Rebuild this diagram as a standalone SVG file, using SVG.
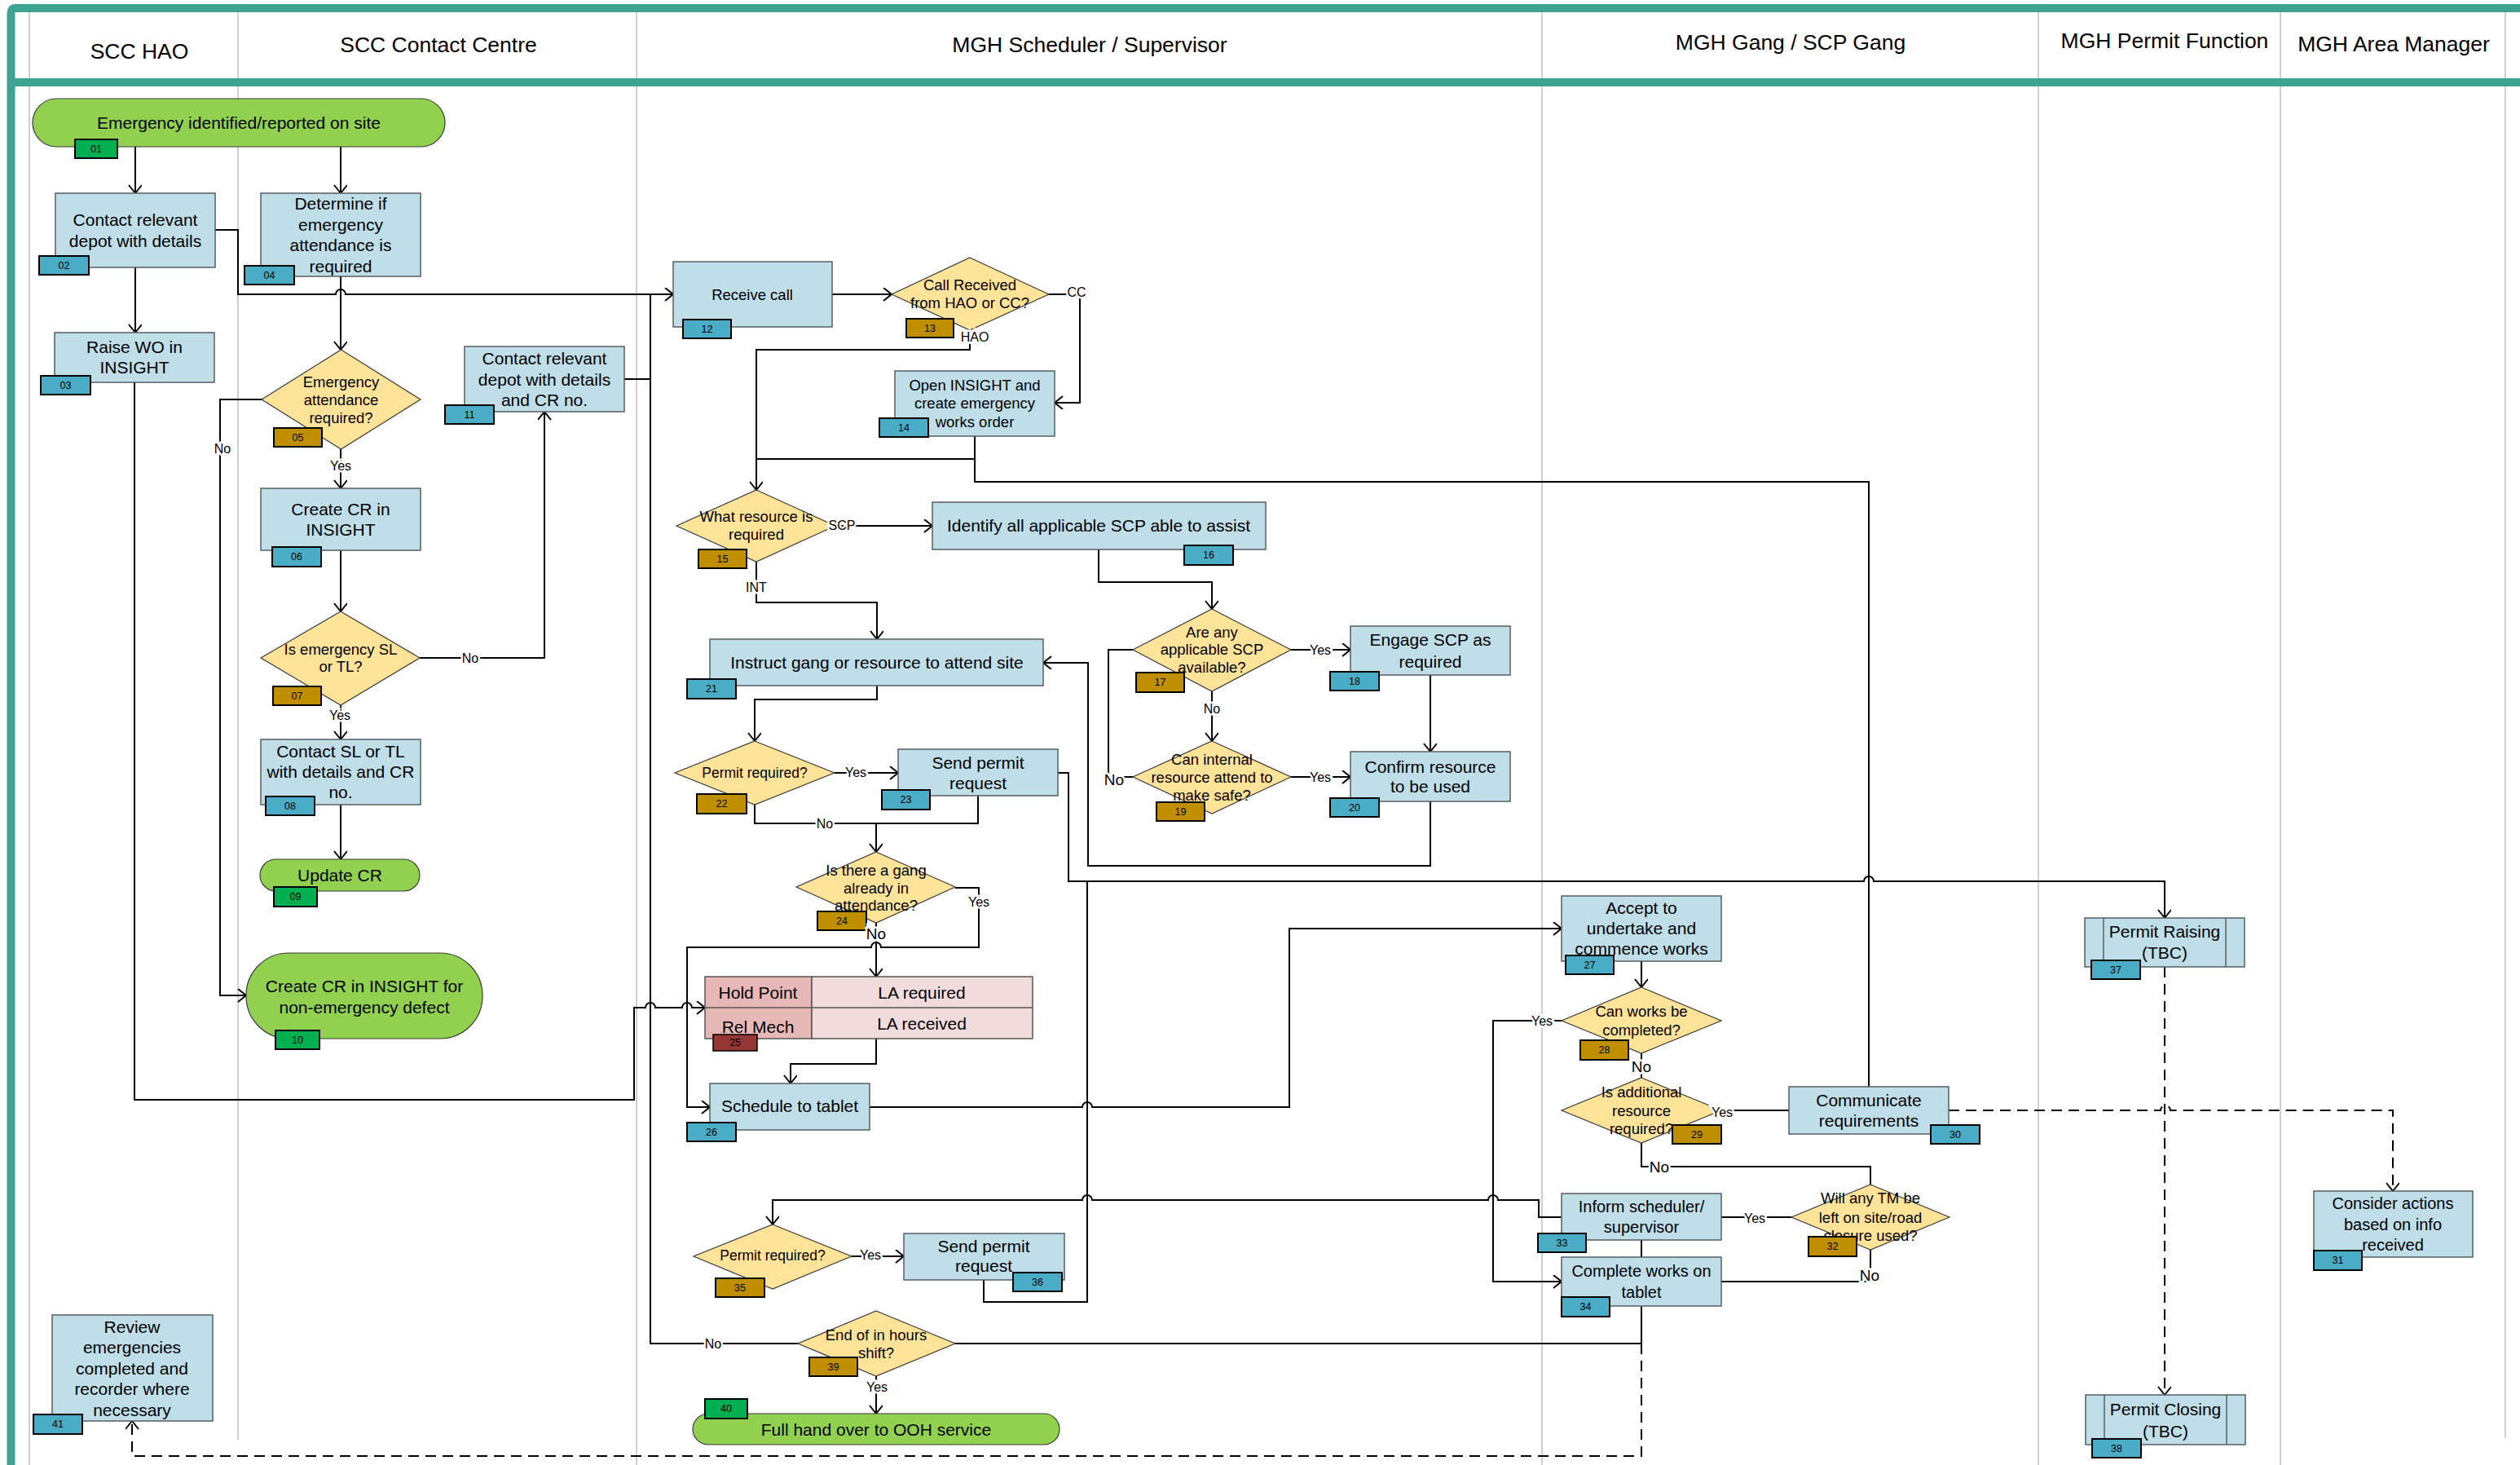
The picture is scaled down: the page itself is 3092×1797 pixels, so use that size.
<svg xmlns="http://www.w3.org/2000/svg" width="3092" height="1797" viewBox="0 0 3092 1797">
<style>
.box{fill:#C0DEE8;stroke:#555F63;stroke-width:1.5}
.dia{fill:#FFE399;stroke:#3A3A3A;stroke-width:1.2}
.pill{fill:#92D050;stroke:#3A3A3A;stroke-width:1.2}
.bb{fill:#4BACC6;stroke:#000;stroke-width:2}
.bo{fill:#BF8F00;stroke:#000;stroke-width:2}
.bg{fill:#00B050;stroke:#000;stroke-width:2}
.br{fill:#953735;stroke:#000;stroke-width:1.5}
.t{font-family:"Liberation Sans",Arial,sans-serif;font-size:21px;text-anchor:middle;dominant-baseline:central;fill:#000}
.s{font-size:18.5px}
.m{font-size:20px}
.p{font-size:17.5px}
.bt{font-size:12.5px}
.h{font-size:26.5px}
.l{font-size:16px;paint-order:stroke;stroke:#fff;stroke-width:5px}
.L{font-size:19px;paint-order:stroke;stroke:#fff;stroke-width:5px}
.ln{fill:none;stroke:#000;stroke-width:2}
.ar{marker-end:url(#a)}
.ds{stroke-dasharray:13,8}
.lane{stroke:#BFBFBF;stroke-width:1.5}
</style>
<defs>
<marker id="a" markerUnits="userSpaceOnUse" markerWidth="16" markerHeight="18" refX="12" refY="8" orient="auto">
<path d="M2,0 L12,8 L2,16" fill="none" stroke="#000" stroke-width="2"/>
</marker>
</defs>
<rect width="3092" height="1797" fill="#fff"/>
<g id="frame">
<line class="lane" x1="36" y1="10" x2="36" y2="1797"/>
<line class="lane" x1="292" y1="10" x2="292" y2="1766"/>
<line class="lane" x1="781" y1="10" x2="781" y2="1797"/>
<line class="lane" x1="1892" y1="10" x2="1892" y2="1797"/>
<line class="lane" x1="2501" y1="10" x2="2501" y2="1797"/>
<line class="lane" x1="2798" y1="10" x2="2798" y2="1797"/>
<line class="lane" x1="3074" y1="10" x2="3074" y2="1764"/>
<path d="M13.5,1797 V16 Q13.5,10 19,10 H3092" fill="none" stroke="#3FA393" stroke-width="10"/>
<line x1="13" y1="101" x2="3092" y2="101" stroke="#3FA393" stroke-width="10"/>
<text class="t h" x="171" y="63">SCC HAO</text>
<text class="t h" x="538" y="55">SCC Contact Centre</text>
<text class="t h" x="1337" y="55">MGH Scheduler / Supervisor</text>
<text class="t h" x="2197" y="52">MGH Gang / SCP Gang</text>
<text class="t h" x="2656" y="50">MGH Permit Function</text>
<text class="t h" x="2937" y="54">MGH Area Manager</text>
</g>
<g id="connectors">
<path class="ln ar" d="M166,180 V237"/>
<path class="ln ar" d="M418,180 V237"/>
<path class="ln ar" d="M166,328 V408"/>
<path class="ln ar" d="M264,282 H292 V361 H412 a6,6 0 0 1 12,0 H826"/>
<path class="ln ar" d="M418,339 V429"/>
<path class="ln ar" d="M321,490 H270 V1221 H302"/>
<path class="ln ar" d="M418,551 V599"/>
<path class="ln ar" d="M418,675 V750"/>
<path class="ln ar" d="M515,807 H668 V505"/>
<path class="ln ar" d="M418,865 V907"/>
<path class="ln ar" d="M418,987 V1054"/>
<path class="ln ar" d="M165,469 V1349 H778 V1236 H792 a6,6 0 0 1 12,0 H837 a6,6 0 0 1 12,0 H865"/>
<path class="ln" d="M766,465 H798"/>
<path class="ln" d="M979,1648 H798 V361"/>
<path class="ln ar" d="M1021,361 H1094"/>
<path class="ln ar" d="M1287,361 H1325 V494 H1294"/>
<path class="ln ar" d="M1190,405 V429 H928 V601"/>
<path class="ln" d="M1196,535 V563 H928"/>
<path class="ln" d="M2293,1333 V591 H1196 V563"/>
<path class="ln ar" d="M1025,645 H1144"/>
<path class="ln ar" d="M928,689 V739 H1076 V784"/>
<path class="ln ar" d="M1348,674 V714 H1487 V747"/>
<path class="ln ar" d="M1584,797 H1657"/>
<path class="ln ar" d="M1487,848 V909"/>
<path class="ln ar" d="M1584,953 H1657"/>
<path class="ln ar" d="M1755,828 V922"/>
<path class="ln" d="M1390,953 H1360 V797 H1390"/>
<path class="ln ar" d="M1755,983 V1062 H1335 V813 H1280"/>
<path class="ln ar" d="M1076,841 V858 H926 V909"/>
<path class="ln ar" d="M1024,948 H1102"/>
<path class="ln" d="M926,987 V1010 H1200 V976"/>
<path class="ln ar" d="M1075,1010 V1045"/>
<path class="ln ar" d="M1298,948 H1311 V1081 H2287 a6,6 0 0 1 12,0 H2656 V1126"/>
<path class="ln ar" d="M1172,1089 H1201 V1162 H1081 a6,6 0 0 0 -12,0 H843 V1358 H871"/>
<path class="ln ar" d="M1075,1132 V1198"/>
<path class="ln ar" d="M1075,1274 V1305 H970 V1329"/>
<path class="ln ar" d="M1067,1358 H1328 a6,6 0 0 1 12,0 H1582 V1139 H1916"/>
<path class="ln ar" d="M2014,1179 V1211"/>
<path class="ln ar" d="M1916,1252 H1832 V1572 H1916"/>
<path class="ln" d="M2014,1292 V1322"/>
<path class="ln" d="M2112,1362 H2195"/>
<path class="ln" d="M2014,1402 V1431 H2295 V1453"/>
<path class="ln" d="M2198,1493 H2112"/>
<path class="ln" d="M2295,1533 V1572 H2112"/>
<path class="ln" d="M2014,1521 V1542"/>
<path class="ln ar" d="M1916,1493 H1888 V1472 H1838 a6,6 0 0 0 -12,0 H1340 a6,6 0 0 0 -12,0 H948 V1502"/>
<path class="ln ar" d="M1045,1541 H1109"/>
<path class="ln" d="M1207,1570 V1597 H1334 V1081"/>
<path class="ln" d="M2014,1602 V1648 H1172"/>
<path class="ln ar" d="M1075,1688 V1734"/>
<path class="ln ar ds" d="M2014,1648 V1786 H162 V1743"/>
<path class="ln ar ds" d="M2391,1362 H2651 a6,6 0 0 1 12,0 H2936 V1461"/>
<path class="ln ar ds" d="M2656,1186 V1711"/>
</g>
<g id="n01"><rect class="pill" x="40" y="121" width="506" height="59" rx="29.5"/><text class="t" x="293" y="150">Emergency identified/reported on site</text><rect class="bg" x="92" y="171" width="52" height="23"/><text class="t bt" x="118" y="182.5">01</text></g>
<g id="n02"><rect class="box" x="68" y="237" width="196" height="91"/><text class="t"><tspan x="166" y="269">Contact relevant</tspan><tspan x="166" y="295">depot with details</tspan></text><rect class="bb" x="48" y="314" width="61" height="23"/><text class="t bt" x="78.5" y="325.5">02</text></g>
<g id="n03"><rect class="box" x="67" y="408" width="196" height="61"/><text class="t"><tspan x="165" y="425">Raise WO in</tspan><tspan x="165" y="450">INSIGHT</tspan></text><rect class="bb" x="50" y="461" width="61" height="23"/><text class="t bt" x="80.5" y="472.5">03</text></g>
<g id="n04"><rect class="box" x="320" y="237" width="196" height="102"/><text class="t"><tspan x="418" y="249">Determine if</tspan><tspan x="418" y="275">emergency</tspan><tspan x="418" y="300">attendance is</tspan><tspan x="418" y="326">required</tspan></text><rect class="bb" x="300" y="326" width="61" height="23"/><text class="t bt" x="330.5" y="337.5">04</text></g>
<g id="n05"><polygon class="dia" points="418.5,429 516,490 418.5,551 321,490"/><text class="t s"><tspan x="418.5" y="468">Emergency</tspan><tspan x="418.5" y="490">attendance</tspan><tspan x="418.5" y="512">required?</tspan></text><rect class="bo" x="336" y="525" width="59" height="23"/><text class="t bt" x="365.5" y="536.5">05</text></g>
<g id="n06"><rect class="box" x="320" y="599" width="196" height="76"/><text class="t"><tspan x="418" y="623.5">Create CR in</tspan><tspan x="418" y="648.5">INSIGHT</tspan></text><rect class="bb" x="334" y="671" width="60" height="24"/><text class="t bt" x="364" y="683">06</text></g>
<g id="n07"><polygon class="dia" points="418,750 515,807 418,865 320,807"/><text class="t s"><tspan x="418" y="796">Is emergency SL</tspan><tspan x="418" y="817">or TL?</tspan></text><rect class="bo" x="335" y="842" width="59" height="23"/><text class="t bt" x="364.5" y="853.5">07</text></g>
<g id="n08"><rect class="box" x="320" y="907" width="196" height="80"/><text class="t"><tspan x="418" y="921">Contact SL or TL</tspan><tspan x="418" y="946">with details and CR</tspan><tspan x="418" y="971">no.</tspan></text><rect class="bb" x="326" y="977" width="60" height="23"/><text class="t bt" x="356" y="988.5">08</text></g>
<g id="n09"><rect class="pill" x="319" y="1054" width="196" height="39" rx="19.5"/><text class="t" x="417" y="1073">Update CR</text><rect class="bg" x="336" y="1088" width="53" height="24"/><text class="t bt" x="362.5" y="1100">09</text></g>
<g id="n10"><rect class="pill" x="302" y="1169" width="290" height="105" rx="52"/><text class="t"><tspan x="447" y="1209">Create CR in INSIGHT for</tspan><tspan x="447" y="1235">non-emergency defect</tspan></text><rect class="bg" x="338" y="1264" width="54" height="23"/><text class="t bt" x="365" y="1275.5">10</text></g>
<g id="n11"><rect class="box" x="570" y="425" width="196" height="80"/><text class="t"><tspan x="668" y="439">Contact relevant</tspan><tspan x="668" y="465">depot with details</tspan><tspan x="668" y="490">and CR no.</tspan></text><rect class="bb" x="546" y="497" width="60" height="23"/><text class="t bt" x="576" y="508.5">11</text></g>
<g id="n12"><rect class="box" x="826" y="321" width="195" height="80"/><text class="t s" x="923" y="361">Receive call</text><rect class="bb" x="838" y="392" width="59" height="23"/><text class="t bt" x="867.5" y="403.5">12</text></g>
<g id="n13"><polygon class="dia" points="1190,316 1287,361 1190,405 1094,361"/><text class="t s"><tspan x="1190" y="349">Call Received</tspan><tspan x="1190" y="371">from HAO or CC?</tspan></text><rect class="bo" x="1112" y="391" width="58" height="23"/><text class="t bt" x="1141" y="402.5">13</text></g>
<g id="n14"><rect class="box" x="1098" y="455" width="196" height="80"/><text class="t s"><tspan x="1196" y="472">Open INSIGHT and</tspan><tspan x="1196" y="494">create emergency</tspan><tspan x="1196" y="517">works order</tspan></text><rect class="bb" x="1079" y="513" width="60" height="23"/><text class="t bt" x="1109" y="524.5">14</text></g>
<g id="n15"><polygon class="dia" points="928,601 1025,645 928,689 830,645"/><text class="t s"><tspan x="928" y="633">What resource is</tspan><tspan x="928" y="655">required</tspan></text><rect class="bo" x="857" y="674" width="59" height="23"/><text class="t bt" x="886.5" y="685.5">15</text></g>
<g id="n16"><rect class="box" x="1144" y="616" width="409" height="58"/><text class="t" x="1348" y="644.5">Identify all applicable SCP able to assist</text><rect class="bb" x="1453" y="669" width="60" height="24"/><text class="t bt" x="1483" y="681">16</text></g>
<g id="n17"><polygon class="dia" points="1487,747 1584,797 1487,848 1390,797"/><text class="t s"><tspan x="1487" y="775">Are any</tspan><tspan x="1487" y="796">applicable SCP</tspan><tspan x="1487" y="818">available?</tspan></text><rect class="bo" x="1394" y="825" width="59" height="24"/><text class="t bt" x="1423.5" y="837">17</text></g>
<g id="n18"><rect class="box" x="1657" y="768" width="196" height="60"/><text class="t"><tspan x="1755" y="784">Engage SCP as</tspan><tspan x="1755" y="810.5">required</tspan></text><rect class="bb" x="1632" y="824" width="60" height="23"/><text class="t bt" x="1662" y="835.5">18</text></g>
<g id="n19"><polygon class="dia" points="1487,909 1584,953 1487,998 1390,953"/><text class="t s"><tspan x="1487" y="931">Can internal</tspan><tspan x="1487" y="953">resource attend to</tspan><tspan x="1487" y="975">make safe?</tspan></text><rect class="bo" x="1419" y="984" width="59" height="23"/><text class="t bt" x="1448.5" y="995.5">19</text></g>
<g id="n20"><rect class="box" x="1657" y="922" width="196" height="61"/><text class="t"><tspan x="1755" y="940">Confirm resource</tspan><tspan x="1755" y="964">to be used</tspan></text><rect class="bb" x="1632" y="979" width="60" height="23"/><text class="t bt" x="1662" y="990.5">20</text></g>
<g id="n21"><rect class="box" x="871" y="784" width="409" height="57"/><text class="t" x="1076" y="812">Instruct gang or resource to attend site</text><rect class="bb" x="843" y="833" width="60" height="24"/><text class="t bt" x="873" y="845">21</text></g>
<g id="n22"><polygon class="dia" points="926,909 1024,948 926,987 828,948"/><text class="t p" x="926" y="948">Permit required?</text><rect class="bo" x="855" y="974" width="61" height="24"/><text class="t bt" x="885.5" y="986">22</text></g>
<g id="n23"><rect class="box" x="1102" y="919" width="196" height="57"/><text class="t"><tspan x="1200" y="934.5">Send permit</tspan><tspan x="1200" y="959.5">request</tspan></text><rect class="bb" x="1082" y="969" width="59" height="24"/><text class="t bt" x="1111.5" y="981">23</text></g>
<g id="n24"><polygon class="dia" points="1075,1045 1172,1088 1075,1132 977,1088"/><text class="t s"><tspan x="1075" y="1067">Is there a gang</tspan><tspan x="1075" y="1089">already in</tspan><tspan x="1075" y="1110">attendance?</tspan></text><rect class="bo" x="1003" y="1118" width="60" height="23"/><text class="t bt" x="1033" y="1129.5">24</text></g>
<g id="n25"><rect x="865" y="1198" width="131" height="76" fill="#E6B8B7" stroke="#555" stroke-width="1.5"/><rect x="996" y="1198" width="271" height="76" fill="#F2DCDB" stroke="#555" stroke-width="1.5"/><line x1="865" y1="1236" x2="1267" y2="1236" stroke="#555" stroke-width="1.5"/><text class="t" x="930" y="1217">Hold Point</text><text class="t" x="1131" y="1217">LA required</text><text class="t" x="930" y="1259">Rel Mech</text><text class="t" x="1131" y="1255">LA received</text><rect class="br" x="875" y="1269" width="54" height="20"/><text class="t bt" x="902" y="1279">25</text></g>
<g id="n26"><rect class="box" x="871" y="1329" width="196" height="57"/><text class="t" x="969" y="1356">Schedule to tablet</text><rect class="bb" x="843" y="1377" width="60" height="23"/><text class="t bt" x="873" y="1388.5">26</text></g>
<g id="n27"><rect class="box" x="1916" y="1099" width="196" height="80"/><text class="t"><tspan x="2014" y="1113">Accept to</tspan><tspan x="2014" y="1138">undertake and</tspan><tspan x="2014" y="1163">commence works</tspan></text><rect class="bb" x="1921" y="1172" width="59" height="23"/><text class="t bt" x="1950.5" y="1183.5">27</text></g>
<g id="n28"><polygon class="dia" points="2014,1211 2112,1252 2014,1292 1916,1252"/><text class="t s"><tspan x="2014" y="1240">Can works be</tspan><tspan x="2014" y="1263">completed?</tspan></text><rect class="bo" x="1939" y="1276" width="59" height="24"/><text class="t bt" x="1968.5" y="1288">28</text></g>
<g id="n29"><polygon class="dia" points="2014,1322 2112,1362 2014,1402 1916,1362"/><text class="t s"><tspan x="2014" y="1339">Is additional</tspan><tspan x="2014" y="1362">resource</tspan><tspan x="2014" y="1384">required?</tspan></text><rect class="bo" x="2052" y="1380" width="60" height="23"/><text class="t bt" x="2082" y="1391.5">29</text></g>
<g id="n30"><rect class="box" x="2195" y="1333" width="196" height="58"/><text class="t"><tspan x="2293" y="1349">Communicate</tspan><tspan x="2293" y="1374">requirements</tspan></text><rect class="bb" x="2369" y="1380" width="60" height="23"/><text class="t bt" x="2399" y="1391.5">30</text></g>
<g id="n31"><rect class="box" x="2839" y="1461" width="195" height="81"/><text class="t m"><tspan x="2936" y="1476">Consider actions</tspan><tspan x="2936" y="1502">based on info</tspan><tspan x="2936" y="1527">received</tspan></text><rect class="bb" x="2839" y="1534" width="59" height="24"/><text class="t bt" x="2868.5" y="1546">31</text></g>
<g id="n32"><polygon class="dia" points="2295,1453 2392,1493 2295,1533 2198,1493"/><text class="t s"><tspan x="2295" y="1469">Will any TM be</tspan><tspan x="2295" y="1493">left on site/road</tspan><tspan x="2295" y="1515">closure used?</tspan></text><rect class="bo" x="2219" y="1517" width="59" height="24"/><text class="t bt" x="2248.5" y="1529">32</text></g>
<g id="n33"><rect class="box" x="1916" y="1464" width="196" height="57"/><text class="t m"><tspan x="2014" y="1480">Inform scheduler/</tspan><tspan x="2014" y="1505">supervisor</tspan></text><rect class="bb" x="1887" y="1513" width="59" height="23"/><text class="t bt" x="1916.5" y="1524.5">33</text></g>
<g id="n34"><rect class="box" x="1916" y="1542" width="196" height="60"/><text class="t m"><tspan x="2014" y="1559">Complete works on</tspan><tspan x="2014" y="1585">tablet</tspan></text><rect class="bb" x="1916" y="1591" width="59" height="24"/><text class="t bt" x="1945.5" y="1603">34</text></g>
<g id="n35"><polygon class="dia" points="948,1502 1045,1541 948,1581 851,1541"/><text class="t p" x="948" y="1540">Permit required?</text><rect class="bo" x="878" y="1568" width="60" height="23"/><text class="t bt" x="908" y="1579.5">35</text></g>
<g id="n36"><rect class="box" x="1109" y="1513" width="197" height="57"/><text class="t"><tspan x="1207" y="1528">Send permit</tspan><tspan x="1207" y="1552">request</tspan></text><rect class="bb" x="1243" y="1561" width="60" height="23"/><text class="t bt" x="1273" y="1572.5">36</text></g>
<g id="n37"><rect class="box" x="2558" y="1126" width="196" height="60"/><line x1="2581" y1="1126" x2="2581" y2="1186" stroke="#555F63" stroke-width="1.5"/><line x1="2731" y1="1126" x2="2731" y2="1186" stroke="#555F63" stroke-width="1.5"/><text class="t"><tspan x="2656" y="1141.5">Permit Raising</tspan><tspan x="2656" y="1168">(TBC)</tspan></text><rect class="bb" x="2566" y="1178" width="60" height="23"/><text class="t bt" x="2596" y="1189.5">37</text></g>
<g id="n38"><rect class="box" x="2559" y="1711" width="196" height="61"/><line x1="2582" y1="1711" x2="2582" y2="1772" stroke="#555F63" stroke-width="1.5"/><line x1="2732" y1="1711" x2="2732" y2="1772" stroke="#555F63" stroke-width="1.5"/><text class="t"><tspan x="2657" y="1728">Permit Closing</tspan><tspan x="2657" y="1754.5">(TBC)</tspan></text><rect class="bb" x="2567" y="1765" width="60" height="23"/><text class="t bt" x="2597" y="1776.5">38</text></g>
<g id="n39"><polygon class="dia" points="1075,1608 1172,1648 1075,1688 979,1648"/><text class="t s"><tspan x="1075" y="1636.5">End of in hours</tspan><tspan x="1075" y="1659">shift?</tspan></text><rect class="bo" x="993" y="1665" width="59" height="23"/><text class="t bt" x="1022.5" y="1676.5">39</text></g>
<g id="n40"><rect class="pill" x="850" y="1734" width="450" height="38" rx="19"/><text class="t" x="1075" y="1753">Full hand over to OOH service</text><rect class="bg" x="865" y="1716" width="52" height="24"/><text class="t bt" x="891" y="1728">40</text></g>
<g id="n41"><rect class="box" x="64" y="1613" width="197" height="130"/><text class="t"><tspan x="162" y="1627">Review</tspan><tspan x="162" y="1652">emergencies</tspan><tspan x="162" y="1678">completed and</tspan><tspan x="162" y="1703">recorder where</tspan><tspan x="162" y="1729">necessary</tspan></text><rect class="bb" x="41" y="1735" width="60" height="24"/><text class="t bt" x="71" y="1747">41</text></g>
<g id="connector-labels">
<text class="t l" x="273" y="550">No</text>
<text class="t l" x="418" y="571">Yes</text>
<text class="t l" x="577" y="807">No</text>
<text class="t l" x="417" y="877">Yes</text>
<text class="t l" x="1196" y="413">HAO</text>
<text class="t l" x="1321" y="358">CC</text>
<text class="t l" x="1033" y="644">SCP</text>
<text class="t l" x="928" y="720">INT</text>
<text class="t l" x="1620" y="797">Yes</text>
<text class="t l" x="1487" y="869">No</text>
<text class="t l" x="1620" y="953">Yes</text>
<text class="t L" x="1367" y="956">No</text>
<text class="t l" x="1050" y="947">Yes</text>
<text class="t l" x="1012" y="1010">No</text>
<text class="t l" x="1201" y="1106">Yes</text>
<text class="t L" x="1075" y="1145">No</text>
<text class="t l" x="1892" y="1252">Yes</text>
<text class="t L" x="2014" y="1308">No</text>
<text class="t l" x="2113" y="1364">Yes</text>
<text class="t L" x="2036" y="1431">No</text>
<text class="t l" x="2153" y="1494">Yes</text>
<text class="t L" x="2294" y="1564">No</text>
<text class="t l" x="1068" y="1539">Yes</text>
<text class="t l" x="875" y="1648">No</text>
<text class="t l" x="1076" y="1701">Yes</text>
</g>
</svg>
